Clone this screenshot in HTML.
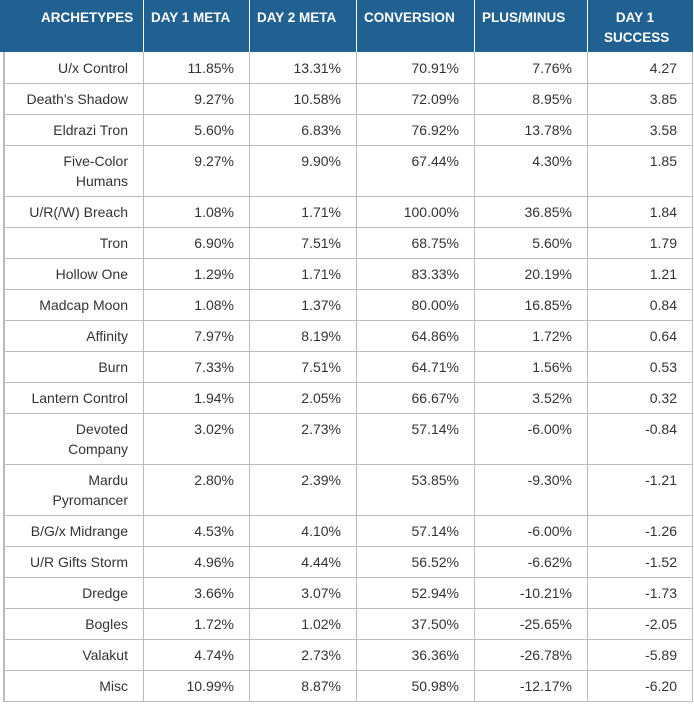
<!DOCTYPE html>
<html><head><meta charset="utf-8"><style>
body{margin:0;width:694px;height:704px;background:#fff;position:relative;overflow:hidden;font-family:"Liberation Sans",sans-serif}
#hdr{position:absolute;left:0;top:0;width:693px;height:52px;background:#216192}
.h{position:absolute;color:#fff;font-weight:bold;font-size:13.5px;line-height:20px}
.c{position:absolute;font-size:14px;color:#333;text-align:right;line-height:20px;display:flex;align-items:center;justify-content:flex-end;box-sizing:border-box;padding-right:15px;border-right:1px solid #bbb;border-bottom:1px solid #bbb}
</style></head><body>
<div id="hdr"></div>
<div id="tbl"></div>
<script>
const names=["U/x Control","Death's Shadow","Eldrazi Tron","Five-Color<br>Humans","U/R(/W) Breach","Tron","Hollow One","Madcap Moon","Affinity","Burn","Lantern Control","Devoted<br>Company","Mardu<br>Pyromancer","B/G/x Midrange","U/R Gifts Storm","Dredge","Bogles","Valakut","Misc"];
const day1=["11.85%","9.27%","5.60%","9.27%","1.08%","6.90%","1.29%","1.08%","7.97%","7.33%","1.94%","3.02%","2.80%","4.53%","4.96%","3.66%","1.72%","4.74%","10.99%"];
const day2=["13.31%","10.58%","6.83%","9.90%","1.71%","7.51%","1.71%","1.37%","8.19%","7.51%","2.05%","2.73%","2.39%","4.10%","4.44%","3.07%","1.02%","2.73%","8.87%"];
const conv=["70.91%","72.09%","76.92%","67.44%","100.00%","68.75%","83.33%","80.00%","64.86%","64.71%","66.67%","57.14%","53.85%","57.14%","56.52%","52.94%","37.50%","36.36%","50.98%"];
const pm=["7.76%","8.95%","13.78%","4.30%","36.85%","5.60%","20.19%","16.85%","1.72%","1.56%","3.52%","-6.00%","-9.30%","-6.00%","-6.62%","-10.21%","-25.65%","-26.78%","-12.17%"];
const succ=["4.27","3.85","3.58","1.85","1.84","1.79","1.21","0.84","0.64","0.53","0.32","-0.84","-1.21","-1.26","-1.52","-1.73","-2.05","-5.89","-6.20"];
const headers=["ARCHETYPES","DAY 1 META","DAY 2 META","CONVERSION","PLUS/MINUS","DAY 1<br>SUCCESS"];
const cols=[3,143,249,356,474,587,692];
const hx=[41,151,257,364,482,604];
const tbl=document.getElementById('tbl');
const hdr=document.getElementById('hdr');
headers.forEach((h,i)=>{
  const d=document.createElement('div');d.className='h';d.innerHTML=h;
  
  
  d.style.left=hx[i]+'px';d.style.top='8px';
  if(i==5){d.style.textAlign='center';d.style.width='62px';}
  hdr.appendChild(d);
  if(i>0){const l=document.createElement('div');l.style.cssText='position:absolute;top:0;height:52px;width:1px;background:#fff;left:'+cols[i]+'px';hdr.appendChild(l);}
});
const data=[names,day1,day2,conv,pm,succ];
let y=52;
names.forEach((n,r)=>{
  const h=n.includes('<br>')?51:31;
  for(let c=0;c<6;c++){
    const d=document.createElement('div');d.className='c';
    
    
    d.innerHTML=data[c][r];
    d.style.left=cols[c]+'px';d.style.top=y+'px';
    d.style.width=(cols[c+1]-cols[c]+1)+'px';d.style.height=(h+1)+'px';
    if(c==0)d.style.borderLeft='2px solid #bbb';
    if(h>31&&c>0){d.style.alignItems='flex-start';d.style.paddingTop='6px';}
    tbl.appendChild(d);
  }
  y+=h;
});
</script>
</body></html>
